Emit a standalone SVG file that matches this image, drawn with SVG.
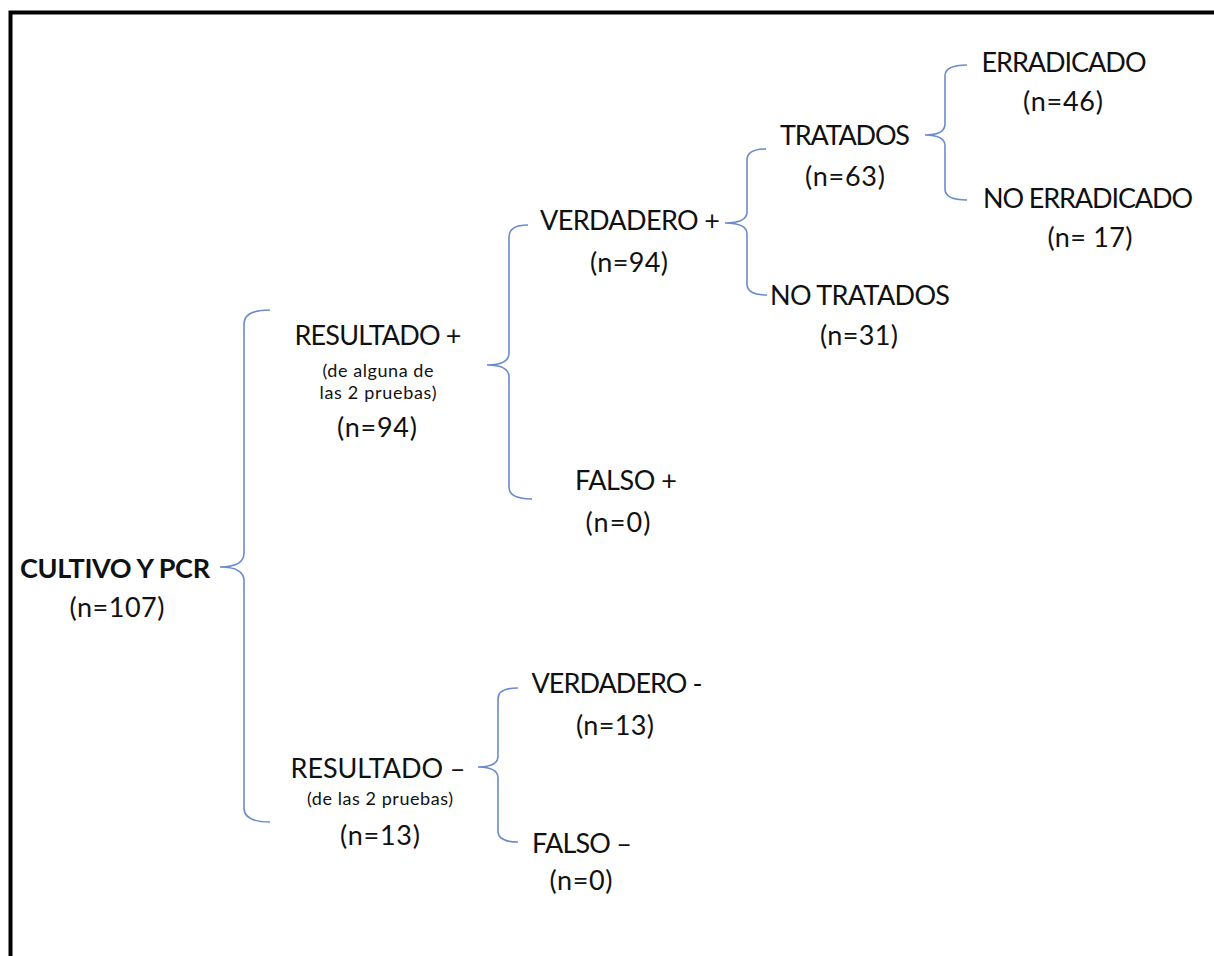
<svg xmlns="http://www.w3.org/2000/svg" width="1214" height="956" viewBox="0 0 1214 956">
<style>
text{font-family:Lato,"Open Sans","Liberation Sans",sans-serif;fill:#111;text-anchor:middle}
.m{font-size:27px}
.s{font-size:18px}
.b{font-size:27px;font-weight:bold}
.br{fill:none;stroke:#6b8bcc;stroke-width:1.6}
</style>
<rect x="10.5" y="12.5" width="1230" height="970" fill="#fff" stroke="#000" stroke-width="4"/>
<g id="connectors">
<path class="br" d="M270 310 Q244 310 244 324 L244 553 Q244 567 220 567 Q244 567 244 581 L244 808 Q244 822 270 822"/>
<path class="br" d="M528 225 Q509 225 509 237 L509 353 Q509 365 487 365 Q509 365 509 377 L509 487 Q509 499 532 499"/>
<path class="br" d="M766 149 Q747 149 747 160 L747 212 Q747 223 725 223 Q747 223 747 234 L747 284 Q747 295 767 295"/>
<path class="br" d="M967 65 Q945 65 945 76 L945 124 Q945 135 925 135 Q945 135 945 146 L945 189 Q945 200 967 200"/>
<path class="br" d="M518 688 Q498 688 498 699 L498 756 Q498 767 478 767 Q498 767 498 778 L498 831 Q498 842 518 842"/>
</g>
<g id="n-cultivo"><text class="b" x="115" y="578" textLength="190">CULTIVO Y PCR</text><text class="m" x="117" y="617" textLength="95">(n=107)</text></g>
<g id="n-respos"><text class="m" x="378" y="345" textLength="167">RESULTADO +</text><text class="s" x="378" y="377" textLength="111">(de alguna de</text><text class="s" x="378" y="399" textLength="117">las 2 pruebas)</text><text class="m" x="377" y="437" textLength="80">(n=94)</text></g>
<g id="n-verdpos"><text class="m" x="630" y="230" textLength="180">VERDADERO +</text><text class="m" x="629" y="272" textLength="78">(n=94)</text></g>
<g id="n-tratados"><text class="m" x="845" y="145" textLength="130">TRATADOS</text><text class="m" x="845" y="186" textLength="80">(n=63)</text></g>
<g id="n-erradicado"><text class="m" x="1064" y="72" textLength="165">ERRADICADO</text><text class="m" x="1063" y="111" textLength="80">(n=46)</text></g>
<g id="n-noerradicado"><text class="m" x="1088" y="208" textLength="210">NO ERRADICADO</text><text class="m" x="1090" y="247" textLength="85">(n= 17)</text></g>
<g id="n-notratados"><text class="m" x="860" y="305" textLength="180">NO TRATADOS</text><text class="m" x="859" y="345" textLength="78">(n=31)</text></g>
<g id="n-falsopos"><text class="m" x="626" y="490" textLength="102">FALSO +</text><text class="m" x="618" y="532" textLength="65">(n=0)</text></g>
<g id="n-resneg"><text class="m" x="378" y="778" textLength="175">RESULTADO –</text><text class="s" x="380" y="805" textLength="146">(de las 2 pruebas)</text><text class="m" x="380" y="845" textLength="80">(n=13)</text></g>
<g id="n-verdneg"><text class="m" x="617" y="693" textLength="171">VERDADERO -</text><text class="m" x="615" y="735" textLength="78">(n=13)</text></g>
<g id="n-falsoneg"><text class="m" x="582" y="853" textLength="100">FALSO –</text><text class="m" x="581" y="890" textLength="63">(n=0)</text></g>
</svg>
